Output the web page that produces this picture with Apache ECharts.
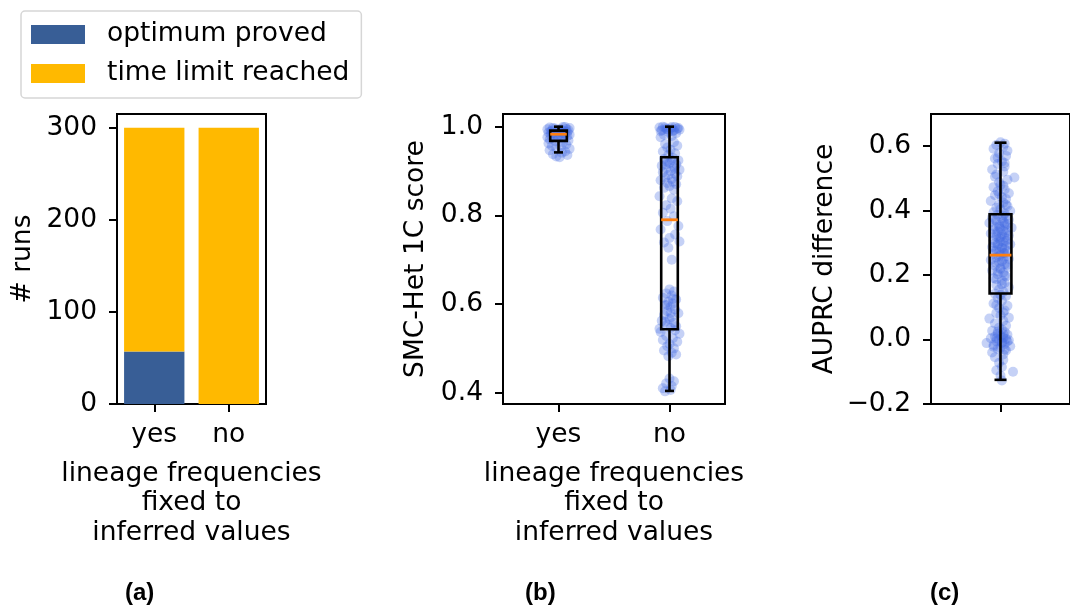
<!DOCTYPE html>
<html>
<head>
<meta charset="utf-8">
<script src="https://cdn.jsdelivr.net/npm/echarts@6/dist/echarts.min.js"></script>
<style>
  html, body { margin: 0; padding: 0; background: #fff; }
  #chart { width: 1070px; height: 608px; }
</style>
</head>
<body>
<div id="chart"></div>
<script>
// ---- data -------------------------------------------------------------
const fixedCategories = ['yes', 'no'];
const runsTicks = [0, 100, 200, 300];
const optimumProved = [57, 0];
const timeLimitReached = [243, 300];

const scoreTicks = [0.4, 0.6, 0.8, 1.0];
const diffTicks = [-0.2, 0.0, 0.2, 0.4, 0.6];

// five-number summaries: [position, whiskerLow, q1, median, q3, whiskerHigh]
const scoreBoxes = [
  [0, 0.942, 0.968, 0.983, 0.991, 1.000],
  [1, 0.404, 0.543, 0.790, 0.931, 1.000]
];
const diffBoxes = [
  [0, -0.125, 0.143, 0.262, 0.389, 0.611]
];

// individual runs: [jitter, value]
const scoreYes = [
  [-0.08,0.998],[0.04,0.999],[0.10,0.997],[-0.03,0.996],[0.07,0.995],[-0.10,0.994],[0.01,0.993],
  [0.09,0.992],[-0.06,0.991],[0.05,0.990],[-0.01,0.989],[0.08,0.988],[-0.09,0.987],[0.03,0.986],
  [-0.05,0.985],[0.06,0.984],[-0.02,0.983],[0.10,0.982],[-0.07,0.981],[0.02,0.980],[0.08,0.979],
  [-0.04,0.978],[-0.10,0.976],[0.05,0.975],[0.00,0.973],[-0.08,0.971],[0.09,0.969],[-0.03,0.967],
  [0.04,0.965],[-0.09,0.962],[0.07,0.960],[-0.06,0.957],[0.02,0.955],[-0.02,0.952],[0.10,0.950],
  [-0.08,0.947],[0.06,0.944],[0.03,0.941],[-0.05,0.938],[0.08,0.936],[-0.02,0.933],[0.01,0.931],
  [0.06,0.999],[-0.05,0.997],[0.02,0.994],[-0.07,0.989],[0.04,0.986],[-0.01,0.978]
];
const scoreNo = [
  [-0.06,1.000],[0.05,0.999],[-0.09,0.998],[0.08,0.997],[0.01,0.996],[-0.03,0.995],[0.09,0.993],
  [-0.07,0.992],[0.03,0.990],[-0.01,0.988],[0.06,0.985],[-0.05,0.982],[0.02,0.979],[-0.08,0.976],
  [0.02,0.999],[-0.04,0.998],[0.07,0.996],[-0.02,0.994],[0.04,0.992],[-0.08,0.990],
  [0.04,0.965],[-0.04,0.961],[0.07,0.957],[-0.02,0.953],[0.01,0.948],[-0.06,0.944],[0.05,0.940],
  [-0.01,0.936],[0.03,0.930],[-0.05,0.927],[0.08,0.924],[-0.02,0.921],[0.00,0.918],[0.06,0.915],
  [-0.07,0.912],[0.04,0.909],[-0.03,0.906],[0.09,0.903],[0.01,0.900],[-0.06,0.897],[0.05,0.894],
  [-0.01,0.891],[0.07,0.888],[-0.04,0.885],[0.02,0.882],[-0.08,0.879],[0.03,0.876],[-0.02,0.873],
  [0.06,0.870],[0.00,0.866],[-0.05,0.862],[0.04,0.858],[0.02,0.925],[-0.03,0.915],[0.05,0.905],
  [-0.09,0.843],[0.02,0.838],[0.07,0.832],
  [-0.03,0.823],[0.01,0.815],[-0.06,0.806],[0.04,0.798],[-0.02,0.787],[0.08,0.776],[-0.08,0.768],
  [0.05,0.757],[0.00,0.749],[-0.05,0.739],[0.09,0.741],[-0.01,0.727],[0.02,0.700],[0.00,0.633],
  [0.04,0.628],[-0.03,0.624],[0.02,0.619],[-0.06,0.614],[0.06,0.610],[-0.01,0.605],[0.03,0.601],
  [-0.04,0.597],[0.01,0.593],[0.05,0.588],[-0.02,0.584],[0.08,0.579],[-0.05,0.575],[0.02,0.571],
  [0.00,0.566],[-0.07,0.562],[0.04,0.558],[-0.02,0.554],[0.06,0.550],[0.01,0.546],[-0.09,0.544],
  [0.03,0.612],[-0.02,0.598],[0.01,0.580],[-0.04,0.560],
  [0.05,0.541],[-0.08,0.537],[0.09,0.533],[-0.03,0.528],[0.03,0.523],[-0.06,0.519],[0.07,0.515],
  [0.00,0.510],[-0.02,0.505],[0.04,0.500],[-0.05,0.495],[0.02,0.490],[0.06,0.486],[-0.01,0.482],
  [0.00,0.432],[0.04,0.426],[-0.03,0.421],[0.02,0.415],[-0.06,0.410],[0.01,0.406],[-0.04,0.403]
];
const auprcDiff = [
  [0.00,0.612],[0.03,0.608],[-0.03,0.604],[0.02,0.598],[-0.05,0.592],[0.05,0.586],[-0.01,0.578],
  [0.04,0.570],[-0.04,0.562],[0.01,0.553],[-0.02,0.545],[0.03,0.537],[-0.06,0.528],[0.02,0.521],
  [0.10,0.503],[-0.03,0.512],[0.05,0.496],[-0.01,0.488],[0.00,0.480],[-0.05,0.473],[0.03,0.466],
  [-0.02,0.460],[0.06,0.454],[-0.04,0.448],[0.01,0.442],[0.04,0.436],[-0.07,0.430],[0.02,0.425],
  [-0.01,0.419],[0.05,0.414],[-0.03,0.409],[0.00,0.404],[0.07,0.399],[-0.05,0.395],[0.03,0.391],
  [-0.02,0.387],[0.04,0.383],[-0.06,0.379],[0.01,0.376],[0.06,0.372],[-0.03,0.369],[0.02,0.366],
  [-0.08,0.362],[0.05,0.359],[-0.01,0.356],[0.03,0.353],[-0.04,0.350],[0.08,0.347],[0.00,0.344],
  [-0.05,0.341],[0.02,0.338],[-0.02,0.335],[0.04,0.332],[-0.07,0.329],[0.01,0.326],[0.06,0.323],
  [-0.03,0.320],[0.03,0.317],[-0.01,0.314],[0.05,0.311],[-0.05,0.308],[0.00,0.305],[0.02,0.302],
  [-0.04,0.299],[0.07,0.296],[-0.02,0.293],[0.04,0.290],[-0.06,0.287],[0.01,0.284],[0.03,0.281],
  [-0.03,0.278],[0.05,0.275],[-0.01,0.272],[0.02,0.269],[-0.05,0.266],[0.00,0.263],[0.04,0.259],
  [-0.03,0.255],[0.06,0.251],[-0.07,0.247],[0.01,0.243],[-0.01,0.239],[0.03,0.234],[-0.04,0.229],
  [0.05,0.224],[0.00,0.219],[-0.06,0.214],[0.02,0.208],[-0.02,0.202],[0.04,0.196],[-0.05,0.190],
  [0.01,0.183],[0.03,0.176],[-0.03,0.169],[0.06,0.162],[-0.01,0.155],[0.02,0.148],[-0.04,0.142],
  [0.04,0.135],[-0.02,0.128],[0.01,0.120],[-0.05,0.112],[0.05,0.105],[-0.01,0.098],[0.03,0.090],
  [-0.03,0.082],[0.00,0.075],[0.06,0.068],[-0.08,0.065],[0.02,0.058],[-0.04,0.050],[0.04,0.043],
  [-0.01,0.037],[0.01,0.031],[-0.06,0.027],[0.03,0.023],[-0.02,0.019],[0.05,0.015],[0.00,0.012],
  [-0.04,0.009],[0.02,0.006],[-0.07,0.004],[0.04,0.002],[-0.01,0.000],[0.06,-0.002],[-0.03,-0.005],
  [0.01,-0.008],[-0.10,-0.011],[0.03,-0.014],[-0.05,-0.017],[0.07,-0.021],[0.00,-0.025],[-0.02,-0.029],
  [0.04,-0.034],[-0.06,-0.040],[0.02,-0.046],[-0.04,-0.055],[0.02,-0.063],[-0.01,-0.072],[0.01,-0.085],
  [-0.03,-0.095],[0.09,-0.100],[0.00,-0.112],[0.01,-0.127],
  [0.02,0.385],[-0.04,0.371],[0.03,0.361],[-0.01,0.349],[0.05,0.339],[-0.03,0.327],[0.00,0.318],
  [0.04,0.306],[-0.02,0.297],[0.01,0.286],[-0.05,0.276],[0.03,0.268],[-0.01,0.258],[0.02,0.249],
  [-0.04,0.240],[0.05,0.232],[0.00,0.222],[-0.02,0.211],[0.03,0.199],[-0.03,0.187],[0.01,0.172],
  [-0.02,0.565],[0.03,0.548],[-0.04,0.505],[0.02,0.477],[-0.01,0.452],[0.04,0.418],
  [0.02,0.016],[-0.03,0.003],[0.01,-0.010],[-0.05,-0.022],[0.03,-0.031],[-0.02,0.024],[0.05,-0.006],
  [0.00,0.138],[-0.03,0.107],[0.02,0.084]
];

// ---- styling helpers --------------------------------------------------
const FONT = 'DejaVu Sans';
const FS = 26.5;
const INK = '#000';
const DOT = 'rgba(65,105,225,0.38)';

function fmtTick(v) {
  const s = Math.abs(v).toFixed(1);
  return v < -1e-9 ? '\u2212' + s : s;
}

const axisLineStyle = { show: true, onZero: false, lineStyle: { color: INK, width: 2 } };

function yAxisBase(grid, name, gap, min, max, ticks, formatter) {
  return {
    type: 'value', gridIndex: grid, min: min, max: max,
    name: name, nameLocation: 'middle', nameRotate: 90, nameGap: gap,
    nameTextStyle: { fontFamily: FONT, fontSize: FS, color: INK },
    axisLine: axisLineStyle,
    axisTick: { show: true, inside: false, length: 8, customValues: ticks, lineStyle: { color: INK, width: 2 } },
    axisLabel: { show: true, margin: 20, customValues: ticks, formatter: formatter,
      fontFamily: FONT, fontSize: FS, color: INK },
    splitLine: { show: false }
  };
}

function xAxisName(lines) {
  return {
    name: lines, nameLocation: 'middle', nameGap: 55,
    nameTextStyle: { fontFamily: FONT, fontSize: FS, color: INK, lineHeight: 29.5, align: 'center',
      verticalAlign: 'top' }
  };
}

// box with whiskers; the median is drawn in orange
function boxRenderer(boxHalf, capHalf) {
  return function (params, api) {
    const x = api.value(0);
    const lo = api.coord([x, api.value(1)]);
    const q1 = api.coord([x, api.value(2)]);
    const md = api.coord([x, api.value(3)]);
    const q3 = api.coord([x, api.value(4)]);
    const hi = api.coord([x, api.value(5)]);
    const cx = md[0];
    const st = { stroke: INK, lineWidth: 2.6, fill: null };
    return {
      type: 'group',
      children: [
        { type: 'line', shape: { x1: cx, y1: lo[1], x2: cx, y2: q1[1] }, style: st },
        { type: 'line', shape: { x1: cx, y1: q3[1], x2: cx, y2: hi[1] }, style: st },
        { type: 'line', shape: { x1: cx - capHalf, y1: lo[1], x2: cx + capHalf, y2: lo[1] }, style: st },
        { type: 'line', shape: { x1: cx - capHalf, y1: hi[1], x2: cx + capHalf, y2: hi[1] }, style: st },
        { type: 'rect', shape: { x: cx - boxHalf, y: q3[1], width: 2 * boxHalf, height: q1[1] - q3[1] }, style: st },
        { type: 'line', shape: { x1: cx - boxHalf, y1: md[1], x2: cx + boxHalf, y2: md[1] },
          style: { stroke: '#ff7f0e', lineWidth: 2.8 } }
      ]
    };
  };
}

const gridFrame = { show: true, borderColor: INK, borderWidth: 2, backgroundColor: 'transparent' };

const option = {
  animation: false,
  backgroundColor: '#fff',
  textStyle: { fontFamily: FONT },
  legend: {
    orient: 'vertical', left: 21, top: 11,
    data: ['optimum proved', 'time limit reached'],
    icon: 'rect', itemWidth: 54, itemHeight: 19, itemGap: 12,
    padding: [10, 12, 11, 10],
    borderColor: '#d6d6d6', borderWidth: 1.5, borderRadius: 4,
    textStyle: { fontFamily: FONT, fontSize: FS, color: INK, padding: [0, 0, 0, 17] }
  },
  grid: [
    Object.assign({ left: 117, top: 114, width: 149, height: 290 }, gridFrame),
    Object.assign({ left: 503, top: 114, width: 222, height: 290 }, gridFrame),
    Object.assign({ left: 931, top: 114, width: 150, height: 290 }, gridFrame)
  ],
  xAxis: [
    Object.assign({
      type: 'category', gridIndex: 0, data: fixedCategories,
      axisLine: axisLineStyle,
      axisTick: { show: true, alignWithLabel: true, length: 8, lineStyle: { color: INK, width: 2 } },
      axisLabel: { margin: 18, fontFamily: FONT, fontSize: FS, color: INK },
      splitLine: { show: false }
    }, xAxisName('lineage frequencies\nfixed to\ninferred values')),
    Object.assign({
      type: 'value', gridIndex: 1, min: -0.5, max: 1.5,
      axisLine: axisLineStyle,
      axisTick: { show: true, length: 8, customValues: [0, 1], lineStyle: { color: INK, width: 2 } },
      axisLabel: { margin: 18, customValues: [0, 1], formatter: v => fixedCategories[Math.round(v)],
        fontFamily: FONT, fontSize: FS, color: INK },
      splitLine: { show: false }
    }, xAxisName('lineage frequencies\nfixed to\ninferred values')),
    {
      type: 'value', gridIndex: 2, min: -0.5, max: 0.5,
      axisLine: axisLineStyle,
      axisTick: { show: true, length: 8, customValues: [0], lineStyle: { color: INK, width: 2 } },
      axisLabel: { show: false },
      splitLine: { show: false }
    }
  ],
  yAxis: [
    yAxisBase(0, '# runs', 80, 0, 315, runsTicks, v => String(v)),
    yAxisBase(1, 'SMC-Het 1C score', 73, 0.3745, 1.0286, scoreTicks, fmtTick),
    yAxisBase(2, 'AUPRC difference', 92, -0.2, 0.7, diffTicks, fmtTick)
  ],
  series: [
    { name: 'optimum proved', type: 'bar', stack: 'runs', xAxisIndex: 0, yAxisIndex: 0,
      barWidth: '81%', data: optimumProved, itemStyle: { color: '#385e96' } },
    { name: 'time limit reached', type: 'bar', stack: 'runs', xAxisIndex: 0, yAxisIndex: 0,
      barWidth: '81%', data: timeLimitReached, itemStyle: { color: '#ffb900' } },

    { type: 'scatter', xAxisIndex: 1, yAxisIndex: 1, data: scoreYes.map(p => [0 + p[0], p[1]]),
      symbolSize: 10, itemStyle: { color: DOT }, z: 2 },
    { type: 'scatter', xAxisIndex: 1, yAxisIndex: 1, data: scoreNo.map(p => [1 + p[0], p[1]]),
      symbolSize: 10, itemStyle: { color: DOT }, z: 2 },
    { type: 'custom', xAxisIndex: 1, yAxisIndex: 1, data: scoreBoxes,
      encode: { x: 0, y: [1, 2, 3, 4, 5] }, renderItem: boxRenderer(8.3, 4.5), z: 5 },

    { type: 'scatter', xAxisIndex: 2, yAxisIndex: 2, data: auprcDiff,
      symbolSize: 10, itemStyle: { color: DOT }, z: 2 },
    { type: 'custom', xAxisIndex: 2, yAxisIndex: 2, data: diffBoxes,
      encode: { x: 0, y: [1, 2, 3, 4, 5] }, renderItem: boxRenderer(10.9, 6), z: 5 }
  ],
  graphic: [
    { type: 'text', left: 125, top: 581, style: { text: '(a)', fontFamily: 'Liberation Sans', fontWeight: 'bold', fontSize: 24, fill: INK } },
    { type: 'text', left: 525, top: 581, style: { text: '(b)', fontFamily: 'Liberation Sans', fontWeight: 'bold', fontSize: 24, fill: INK } },
    { type: 'text', left: 930, top: 581, style: { text: '(c)', fontFamily: 'Liberation Sans', fontWeight: 'bold', fontSize: 24, fill: INK } }
  ]
};

const chart = echarts.init(document.getElementById('chart'), null, { renderer: 'canvas' });
chart.setOption(option);
</script>
</body>
</html>
